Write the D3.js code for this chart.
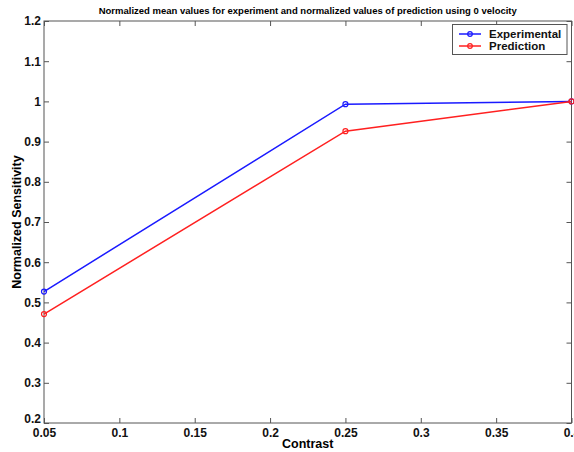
<!DOCTYPE html>
<html><head><meta charset="utf-8">
<script src="https://cdn.jsdelivr.net/npm/d3@7"></script>
<style>body{margin:0;background:#fff;overflow:hidden}svg{display:block}text{font-family:"Liberation Sans",Arial,sans-serif;font-weight:bold}</style>
</head><body>
<svg id="c" width="574" height="452"></svg>
<script>
const contrast = [0.05, 0.25, 0.4];
const experimental = [0.527, 0.993, 1.0];
const prediction = [0.471, 0.926, 1.0];
const xTicks = [0.05, 0.1, 0.15, 0.2, 0.25, 0.3, 0.35, 0.4];
const yTicks = [0.2, 0.3, 0.4, 0.5, 0.6, 0.7, 0.8, 0.9, 1, 1.1, 1.2];
const seriesNames = ["Experimental", "Prediction"];
const seriesColors = ["#1a1aff", "#ff2020"];

const svg = d3.select("#c");
const L = 44, R = 571.5, T = 21, B = 423;
const x = d3.scaleLinear().domain([0.05, 0.4]).range([L, R]);
const y = d3.scaleLinear().domain([0.2, 1.2]).range([B, T]);
const axisColor = "#555";

svg.append("rect").attr("x", L).attr("y", T).attr("width", R - L).attr("height", B - T)
  .attr("fill", "none").attr("stroke", axisColor).attr("stroke-width", 1);

function styleAxis(g, hideText) {
  g.select(".domain").remove();
  g.selectAll("line").attr("stroke", axisColor);
  g.selectAll("text").attr("fill", "#111").style("font-size", "12px");
  if (hideText) g.selectAll("text").remove();
}
const fmt = d => d3.format("~g")(d);
svg.append("g").attr("transform", `translate(0,${B})`)
  .call(d3.axisBottom(x).tickValues(xTicks).tickFormat(fmt).tickSizeInner(-5).tickSizeOuter(0).tickPadding(5))
  .call(g => styleAxis(g, false));
svg.append("g").attr("transform", `translate(0,${T})`)
  .call(d3.axisTop(x).tickValues(xTicks).tickSizeInner(-5).tickSizeOuter(0))
  .call(g => styleAxis(g, true));
svg.append("g").attr("transform", `translate(${L},0)`)
  .call(d3.axisLeft(y).tickValues(yTicks).tickFormat(fmt).tickSizeInner(-5).tickSizeOuter(0).tickPadding(3))
  .call(g => styleAxis(g, false))
  .call(g => g.selectAll(".tick").filter(d => d === 0.2).select("text").attr("dy", "-0.05em"));
svg.append("g").attr("transform", `translate(${R},0)`)
  .call(d3.axisRight(y).tickValues(yTicks).tickSizeInner(-5).tickSizeOuter(0))
  .call(g => styleAxis(g, true));

const line = d3.line().x((d, i) => x(contrast[i])).y(d => y(d));
[experimental, prediction].forEach((vals, k) => {
  svg.append("path").datum(vals).attr("d", line).attr("fill", "none")
    .attr("stroke", seriesColors[k]).attr("stroke-width", 1.5);
  svg.selectAll(null).data(vals).enter().append("circle")
    .attr("cx", (d, i) => x(contrast[i])).attr("cy", d => y(d)).attr("r", 2.5)
    .attr("fill", "none").attr("stroke", seriesColors[k]).attr("stroke-width", 1.2);
});

svg.append("text").attr("x", (L + R) / 2).attr("y", 14).attr("text-anchor", "middle")
  .style("font-size", "9.5px").text("Normalized mean values for experiment and normalized values of prediction using 0 velocity");
svg.append("text").attr("x", (L + R) / 2).attr("y", 448).attr("text-anchor", "middle")
  .style("font-size", "12.5px").text("Contrast");
svg.append("text").attr("transform", `translate(21,${(T + B) / 2}) rotate(-90)`).attr("text-anchor", "middle")
  .style("font-size", "12.5px").text("Normalized Sensitivity");

const lg = svg.append("g");
lg.append("rect").attr("x", 452.5).attr("y", 24.5).attr("width", 114.5).attr("height", 30)
  .attr("fill", "#fff").attr("stroke", axisColor).attr("stroke-width", 1);
seriesNames.forEach((n, k) => {
  const yy = 34 + k * 12;
  lg.append("line").attr("x1", 459).attr("x2", 481).attr("y1", yy).attr("y2", yy)
    .attr("stroke", seriesColors[k]).attr("stroke-width", 1.5);
  lg.append("circle").attr("cx", 470).attr("cy", yy).attr("r", 2.3)
    .attr("fill", "none").attr("stroke", seriesColors[k]).attr("stroke-width", 1.2);
  lg.append("text").attr("x", 489).attr("y", yy + 4).style("font-size", "11.5px").attr("fill", "#111").text(n);
});
</script>
</body></html>
